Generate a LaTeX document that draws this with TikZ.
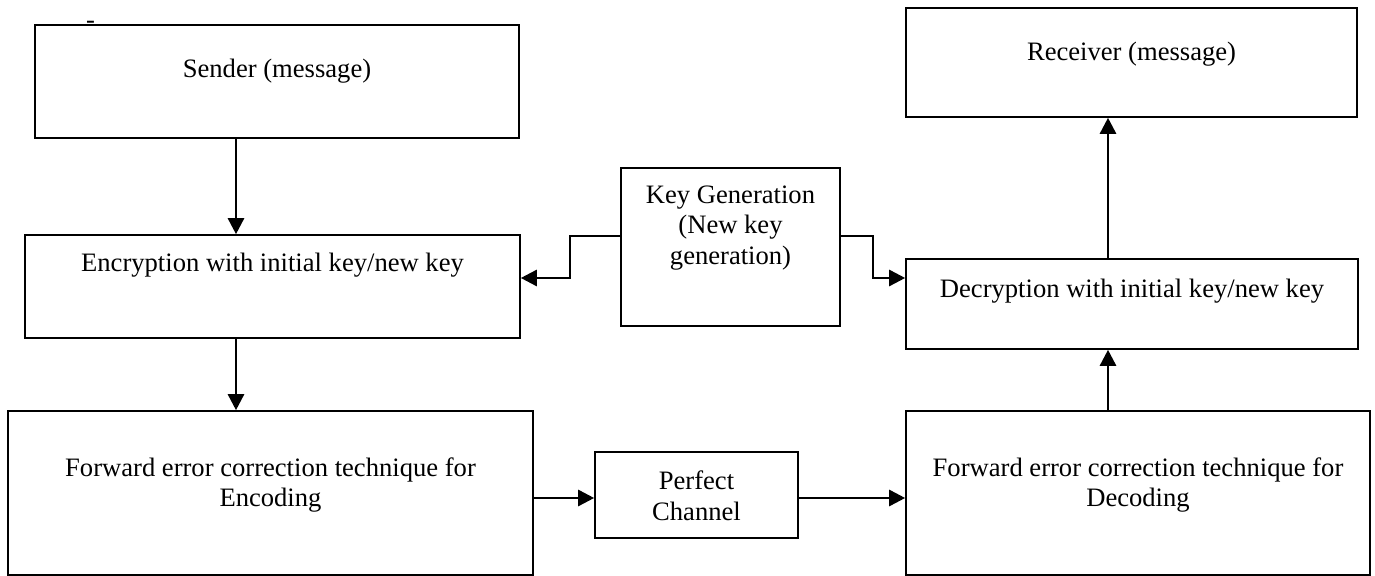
\documentclass[tikz,border=0pt]{standalone}
\usepackage{fontspec}
\setmainfont{Liberation Serif}
\usetikzlibrary{arrows.meta}
\tikzset{
  box/.style={draw, line width=0.8pt, rectangle, inner sep=0pt},
  lbl/.style={align=center, inner sep=0pt, font=\fontsize{13.3pt}{15.4pt}\selectfont},
  conn/.style={line width=1.3pt, -{Triangle[length=8pt,width=8pt]}},
}
\begin{document}
\begin{tikzpicture}[x=0.5pt,y=-0.5pt]
\useasboundingbox (0,0) rectangle (1375,576);
% boxes
\node[box, minimum width=242pt, minimum height=56.5pt] (sender) at (277,81.5) {};
\node[box, minimum width=247.5pt, minimum height=51.5pt] (enc) at (272.5,286.5) {};
\node[box, minimum width=262.5pt, minimum height=82pt] (fecenc) at (270.5,493) {};
\node[box, minimum width=101.5pt, minimum height=43pt] (chan) at (696.5,495) {};
\node[box, minimum width=109.5pt, minimum height=79pt] (keygen) at (730.5,247) {};
\node[box, minimum width=225.5pt, minimum height=54.5pt] (recv) at (1131.5,62.5) {};
\node[box, minimum width=226pt, minimum height=45pt] (dec) at (1132,304) {};
\node[box, minimum width=232pt, minimum height=82pt] (fecdec) at (1138,493) {};
% texts
\node[lbl] (sendert) at (277,71) {Sender (message)};
\node[lbl] (enct) at (272.5,265) {Encryption with initial key/new key};
\node[lbl] (fecenct) at (270.5,485) {Forward error correction technique for\\Encoding};
\node[lbl] (chant) at (696.5,495.5) {Perfect\\Channel};
\node[lbl] (keygent) at (730.5,228) {Key Generation\\(New key\\generation)};
\node[lbl] (recvt) at (1131.5,54) {Receiver (message)};
\node[lbl] (dect) at (1132,291) {Decryption with initial key/new key};
\node[lbl] (fecdect) at (1138,485) {Forward error correction technique for\\Decoding};
\node[lbl, anchor=base] (dash) at (90.5,29) {-};
% connectors
\draw[conn] (sender.south -| 236,0) -- (enc.north -| 236,0);
\draw[conn] (enc.south -| 236,0) -- (fecenc.north -| 236,0);
\draw[conn] (fecenc.east |- 0,498) -- (chan.west |- 0,498);
\draw[conn] (chan.east |- 0,498) -- (fecdec.west |- 0,498);
\draw[conn] (fecdec.north -| 1108,0) -- (dec.south -| 1108,0);
\draw[conn] (dec.north -| 1108,0) -- (recv.south -| 1108,0);
\draw[conn] (keygen.west |- 0,236) -- (570,236) -- (570,278) -- (enc.east |- 0,278);
\draw[conn] (keygen.east |- 0,236) -- (873,236) -- (873,278) -- (dec.west |- 0,278);
\end{tikzpicture}
\end{document}
